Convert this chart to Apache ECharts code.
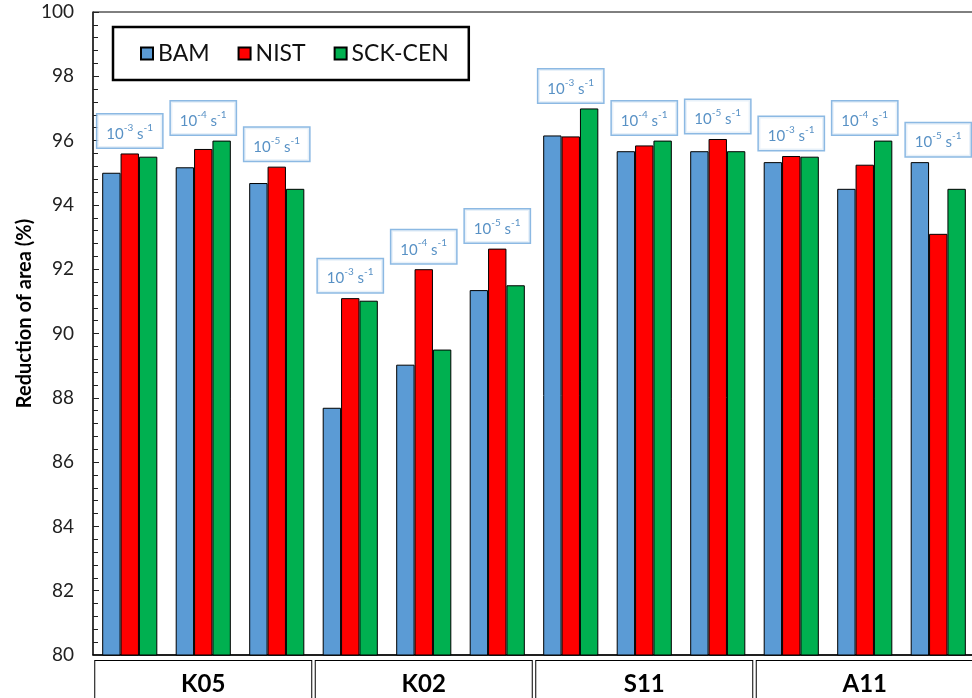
<!DOCTYPE html>
<html>
<head>
<meta charset="utf-8">
<script src="https://cdn.jsdelivr.net/npm/echarts@6/dist/echarts.min.js"></script>
<style>html,body{margin:0;padding:0;background:#fff}#c{width:972px;height:698px}</style>
</head>
<body>
<div id="c"></div>
<script>
var categories = ['K05 1e-3','K05 1e-4','K05 1e-5','K02 1e-3','K02 1e-4','K02 1e-5','S11 1e-3','S11 1e-4','S11 1e-5','A11 1e-3','A11 1e-4','A11 1e-5'];
var groups = ['K05','K02','S11','A11'];
var rateExponents = ['-3','-4','-5','-3','-4','-5','-3','-4','-5','-3','-4','-5'];
var bam    = [95.0, 95.17, 94.68, 87.69, 89.03, 91.35, 96.16, 95.67, 95.67, 95.33, 94.5, 95.33];
var nist   = [95.6, 95.74, 95.19, 91.1, 92.0, 92.64, 96.13, 95.85, 96.05, 95.52, 95.25, 93.1];
var sckcen = [95.5, 96.0, 94.5, 91.02, 89.5, 91.5, 97.0, 96.0, 95.67, 95.5, 96.0, 94.5];
var yTicks = [80, 82, 84, 86, 88, 90, 92, 94, 96, 98, 100];

var groupMax = categories.map(function(c, i){ return Math.max(bam[i], nist[i], sckcen[i]); });
var blue = '#2E75B6';
var font = 'Lato';

var chart = echarts.init(document.getElementById('c'), null, {renderer:'canvas'});
var barStyle = function(color){ return {color: color, borderColor: '#000', borderWidth: 1}; };
chart.setOption({
  animation: false,
  textStyle: {fontFamily: font},
  grid: {left: 93, top: 12, width: 882, height: 643, outerBoundsMode: 'none', containLabel: false,
    show: true, borderColor: '#000', borderWidth: 1, backgroundColor: 'transparent'},
  legend: {
    data: ['BAM','NIST','SCK-CEN'],
    left: 113, top: 27,
    padding: [15, 20, 15, 27],
    borderColor: '#000', borderWidth: 2.5,
    itemWidth: 12, itemHeight: 12, itemGap: 28,
    icon: 'rect',
    textStyle: {fontSize: 23, color: '#111', fontFamily: font}
  },
  xAxis: [{
    type: 'category', data: categories,
    axisLine: {lineStyle: {color: '#000', width: 1.5}},
    axisTick: {show: false}, axisLabel: {show: false}
  },{
    type: 'category', data: groups, position: 'bottom',
    axisLine: {show: false}, axisTick: {show: false},
    axisLabel: {
      margin: 6, fontSize: 24, fontWeight: 'bold', color: '#000', fontFamily: font,
      width: 216, height: 46, lineHeight: 46, align: 'center',
      backgroundColor: '#fff', borderColor: '#000', borderWidth: 1
    }
  }],
  yAxis: {
    type: 'value', min: 80, max: 100, interval: 2,
    name: 'Reduction of area (%)', nameLocation: 'middle', nameRotate: 90, nameGap: 58,
    nameMoveOverlap: false,
    nameTextStyle: {fontSize: 20, fontWeight: 'bold', color: '#000', fontFamily: font, padding: [0, 0, 0, 40]},
    axisLine: {show: true, lineStyle: {color: '#222', width: 1.5}},
    axisTick: {show: true, inside: true, length: 6, lineStyle: {color: '#222'}},
    minorTick: {show: true, splitNumber: 5, length: 5, lineStyle: {color: '#222'}},
    splitLine: {show: false},
    axisLabel: {fontSize: 19, color: '#222', margin: 19, fontFamily: font,
      formatter: function(v){ return yTicks.indexOf(v) >= 0 ? String(v) : ''; }}
  },
  series: [
    {name: 'BAM', type: 'bar', data: bam, itemStyle: barStyle('#5B9BD5'), barGap: '0%', barCategoryGap: '25%'},
    {name: 'NIST', type: 'bar', data: nist, itemStyle: barStyle('#FF0000'), barGap: '0%', barCategoryGap: '25%'},
    {name: 'SCK-CEN', type: 'bar', data: sckcen, itemStyle: barStyle('#00B050'), barGap: '0%', barCategoryGap: '25%'},
    {
      name: 'rate', type: 'scatter', data: groupMax, symbolSize: 0, silent: true, z: 5,
      label: {
        show: true, position: 'top', distance: 6,
        backgroundColor: '#fff', borderColor: '#6FA8DC', borderWidth: 1.5,
        padding: [8, 9, 6, 9],
        formatter: function(p){ return '{b|10}{s|' + rateExponents[p.dataIndex] + '}{b| s}{s|-1}'; },
        rich: {
          b: {fontSize: 15, color: blue, fontFamily: font, lineHeight: 19, verticalAlign: 'bottom'},
          s: {fontSize: 10, color: blue, fontFamily: font, lineHeight: 19, verticalAlign: 'top'}
        }
      }
    }
  ]
});
</script>
</body>
</html>
